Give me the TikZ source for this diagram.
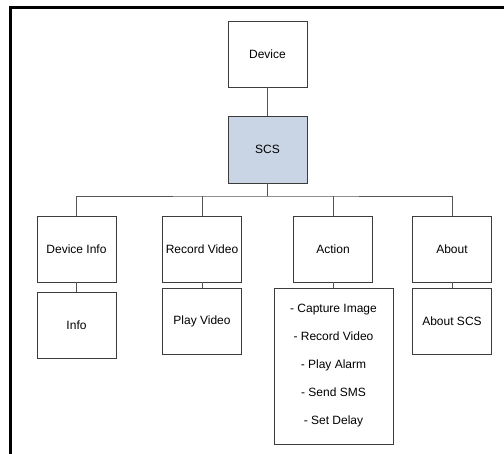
\documentclass[tikz,border=0pt]{standalone}
\usepackage{fontspec}
\setmainfont{Liberation Sans}
\definecolor{boxline}{HTML}{3C3C3C}
\definecolor{wire}{HTML}{555555}
\definecolor{scsfill}{HTML}{C9D5E5}
\begin{document}
\begin{tikzpicture}[x=1pt,y=-1pt,
  box/.style={draw=boxline,line width=0.9pt,fill=white,minimum width=79pt,
    minimum height=66pt,inner sep=0pt,font=\fontsize{12}{14}\selectfont},
  wire/.style={draw=wire,line width=0.9pt}]
\useasboundingbox (0,0) rectangle (504,454);
% outer frame (open on the right and bottom)
\draw[line width=3pt,line cap=rect] (10.5,454) -- (10.5,7.5) -- (504,7.5);

% root and hub
\node[box] (device) at (267.5,54) {Device};
\node[box,fill=scsfill,minimum height=67pt] (scs) at (267.5,149.5) {SCS};

% first level
\node[box] (devinfo) at (76.5,249) {Device Info};
\node[box] (recvid)  at (202,249) {Record Video};
\node[box] (action)  at (333,249) {Action};
\node[box] (about)   at (452,249) {About};

% second level
\node[box] (info)    at (76.5,325) {Info};
\node[box] (playvid) at (202,321) {Play Video};
\node[box,minimum width=119pt,minimum height=156pt,align=center,
  font=\fontsize{12}{28}\selectfont] (actlist) at (333.5,366)
  {- Capture Image\\- Record Video\\- Play Alarm\\- Send SMS\\- Set Delay};
\node[box] (aboutscs) at (452,321) {About SCS};

% connectors
\coordinate (bus) at (267.5,196);
\draw[wire] (device.south) -- (scs.north);
\draw[wire] (scs.south) -- (bus);
\draw[wire] (devinfo.north) |- (bus) -| (about.north);
\draw[wire] (recvid.north) -- (recvid.north |- bus);
\draw[wire] (action.north) -- (action.north |- bus);
\draw[wire] (devinfo.south) -- (info.north);
\draw[wire] (recvid.south) -- (playvid.north);
\draw[wire] (action.south) -- (action.south |- actlist.north);
\draw[wire] (about.south) -- (aboutscs.north);
\end{tikzpicture}
\end{document}
